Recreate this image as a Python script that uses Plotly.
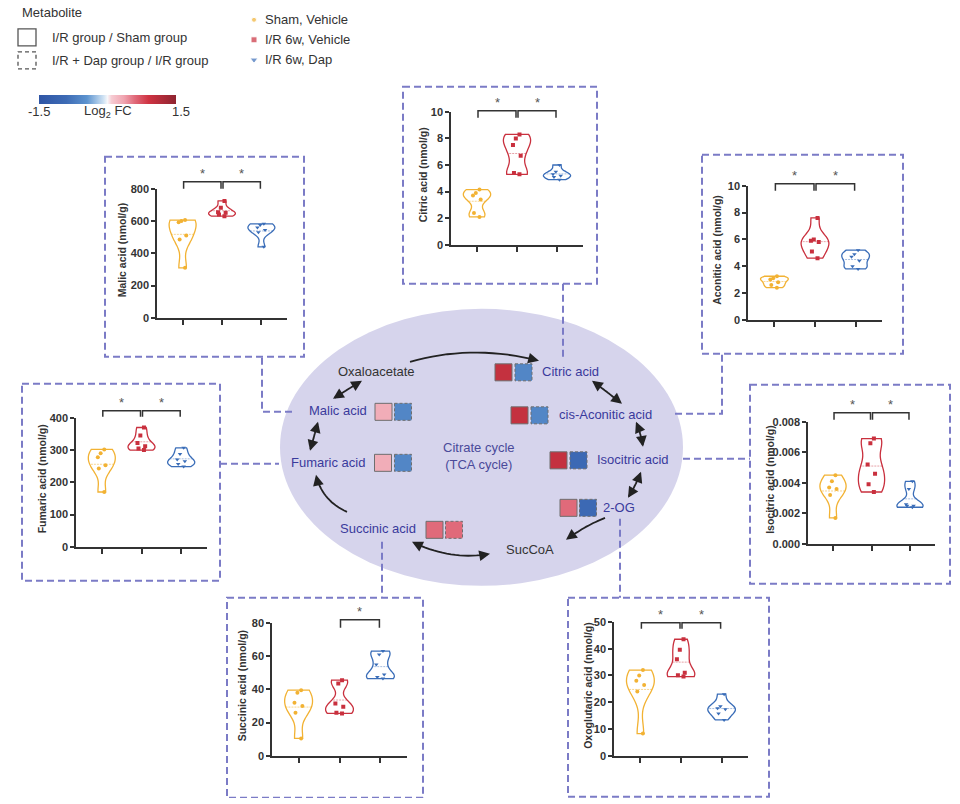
import plotly.graph_objects as go

# All layout constants below are window pixels; the page margin is removed and the measured
# vertical offset/scale of the photographed page is compensated (screen_y = YA + YB * fig_y).
XOFF = 0
YA, YB = 5.2, 0.985
FW, FH = 960, 804
FONT = "Liberation Sans, Arial, sans-serif"

# ---------------- data ----------------
groups = ["Sham, Vehicle", "I/R 6w, Vehicle", "I/R 6w, Dap"]
group_colors = ["#F2B233", "#C9303E", "#3A6DB8"]
group_mean_colors = ["rgba(242,178,51,0.55)", "rgba(201,48,62,0.45)", "rgba(58,109,184,0.45)"]
group_symbols = ["circle", "square", "triangle-down"]

malic_sham = [310, 486, 511, 593, 600, 606]
malic_ir = [630, 641, 651, 655, 682, 725]
malic_dap = [440, 530, 545, 560, 575, 583]
citric_sham = [2.1, 2.4, 3.4, 3.7, 3.9, 4.15]
citric_ir = [5.3, 5.4, 6.7, 7.5, 8.0, 8.3]
citric_dap = [4.9, 5.1, 5.2, 5.3, 5.5, 6.0]
aconitic_sham = [2.4, 2.6, 2.8, 3.0, 3.1, 3.25]
aconitic_ir = [4.6, 5.1, 5.8, 5.9, 6.0, 7.6]
aconitic_dap = [3.8, 4.0, 4.4, 4.7, 4.9, 5.2]
fumaric_sham = [170, 243, 253, 278, 290, 302]
fumaric_ir = [300, 305, 312, 322, 345, 370]
fumaric_dap = [249, 257, 265, 271, 288, 307]
isocitric_sham = [0.0017, 0.0032, 0.0036, 0.0037, 0.0041, 0.0045]
isocitric_ir = [0.0034, 0.0039, 0.0046, 0.0052, 0.0066, 0.0069]
isocitric_dap = [0.0024, 0.0025, 0.0025, 0.0026, 0.0036, 0.0041]
succinic_sham = [10.5, 26, 30, 32, 38, 39.5]
succinic_ir = [25.5, 26, 29.5, 31.5, 43.5, 45.5]
succinic_dap = [46.5, 47.5, 49, 55, 61, 63]
oxo_sham = [8.3, 24, 26.4, 28, 30, 32]
oxo_ir = [29.6, 30.1, 31, 36, 39.6, 43.5]
oxo_dap = [13.4, 15.8, 17.4, 17.8, 18.5, 23]

panel_values = [
    [malic_sham, malic_ir, malic_dap],
    [citric_sham, citric_ir, citric_dap],
    [aconitic_sham, aconitic_ir, aconitic_dap],
    [fumaric_sham, fumaric_ir, fumaric_dap],
    [isocitric_sham, isocitric_ir, isocitric_dap],
    [succinic_sham, succinic_ir, succinic_dap],
    [oxo_sham, oxo_ir, oxo_dap],
]
y_titles = ["Malic acid (nmol/g)", "Citric acid (nmol/g)", "Aconitic acid (nmol/g)",
            "Fumaric acid (nmol/g)", "Isocitric acid (nmol/g)", "Succinic acid (nmol/g)",
            "Oxoglutaric acid (nmol/g)"]
y_max = [800, 10, 10, 400, 0.008, 80, 50]
y_dtick = [200, 2, 2, 100, 0.002, 20, 10]
y_format = ["d", "d", "d", "d", ".3f", "d", "d"]
significance = [[(0, 1), (1, 2)], [(0, 1), (1, 2)], [(0, 1), (1, 2)], [(0, 1), (1, 2)],
                [(0, 1), (1, 2)], [(1, 2)], [(0, 1), (1, 2)]]

metabolites = ["Citric acid", "cis-Aconitic acid", "Isocitric acid", "2-OG",
               "Succinic acid", "Fumaric acid", "Malic acid"]
log2fc_ir_vs_sham = [1.0, 1.0, 1.0, 0.6, 0.6, 0.3, 0.3]
log2fc_dap_vs_ir = [-0.6, -0.6, -0.95, -0.95, 0.6, -0.6, -0.6]
fc_min, fc_max = -1.5, 1.5

# ---------------- layout constants (window pixels) ----------------
XR = [-0.65, 2.65]
BW_FRACTION = 0.2  # violin smoothing relative to each group's spread
# plotting area of each panel: x_left, x_right, y_top, y_bottom
panel_area = [(157, 287, 188, 317), (451, 583, 111, 244), (748, 882, 185, 319),
              (76, 207, 417, 546), (808, 935, 421, 543), (272, 407, 622, 755),
              (614, 748, 621, 755)]
panel_box = [(105, 156, 304, 356), (403, 86, 597, 283), (702, 154, 903, 353),
             (22, 383, 220, 580), (750, 384, 950, 583), (227, 597, 423, 797),
             (568, 597, 769, 796)]
title_offset = [35, 28, 31, 34, 38, 30, 26]
bracket_y = [181, 110, 183, 410, 412, 619, 622]
bracket_drop = [7, 7, 7, 6, 7, 8, 6]

label_pos = [(570, 371), (605, 414), (633, 459), (619, 507), (378, 528), (328, 462), (338, 410)]
square_a = [(503.5, 371.5), (519.5, 414.5), (558.5, 459.5), (568.5, 507), (434.5, 529),
            (383, 462), (383.5, 411)]
square_b = [(523.5, 371.5), (539.5, 414.5), (578.5, 459.5), (588, 507), (454, 529),
            (403, 462), (403, 411)]
SQ = 17

connectors = [
    [(262, 357), (262, 411), (296, 411)],
    [(563, 283), (563, 357)],
    [(675, 413), (722, 413), (722, 353)],
    [(683, 458), (750, 458)],
    [(620, 518), (620, 597)],
    [(382, 541), (382, 597)],
    [(220, 463), (279, 463)],
]
# arrows: start, control, end, head_start, head_end
arrows = [
    ((410, 361), (473, 343), (539, 360), False, True),
    ((592, 380), (607, 391), (622, 403), True, True),
    ((636, 421), (641, 433), (643, 446), True, True),
    ((641, 471), (636, 484), (628, 497), True, True),
    ((605, 517), (585, 525), (566, 539), False, True),
    ((412, 541), (451, 560), (490, 553), True, True),
    ((347, 511), (322, 500), (316, 474), False, True),
    ((310, 450), (314, 436), (318, 421), True, True),
    ((333, 398), (347, 389), (362, 380), True, True),
]

DASH_COL = "#7B7BC6"
DASH = "7px,4px"
AX_COL = "#333333"


def fx(x):
    return (x - XOFF) / FW


def fy(y):
    return 1 - ((y - YA) / YB) / FH


fig = go.Figure()
shapes = []
annotations = []

colorscale = [[0, "#2F55A5"], [0.2, "#3D6BB5"], [0.35, "#5C93CF"], [0.47, "#CFE2F3"],
              [0.5, "#F7F7FA"], [0.53, "#F6CBD2"], [0.62, "#F0A4B0"], [0.7, "#E06A7A"],
              [0.8, "#CF3342"], [1, "#8E2430"]]

layout = dict(
    width=FW, height=FH, margin=dict(l=0, r=0, t=0, b=0, pad=0),
    paper_bgcolor="white", plot_bgcolor="rgba(0,0,0,0)",
    showlegend=False, violinmode="overlay",
    font=dict(family=FONT, color="#333"),
    xaxis=dict(domain=[0, 1], range=[XOFF, XOFF + FW], visible=False, fixedrange=True),
    yaxis=dict(domain=[0, 1], range=[YA + YB * FH, YA], visible=False, fixedrange=True),
)

# ---------------- violin panels ----------------
for i, vals3 in enumerate(panel_values):
    k = i + 2
    xl, xr, yt, yb = panel_area[i]
    layout[f"xaxis{k}"] = dict(
        domain=[fx(xl), fx(xr)], anchor=f"y{k}", type="category",
        categoryorder="array", categoryarray=groups, range=XR,
        showline=True, linecolor=AX_COL, linewidth=1.5, ticks="outside",
        ticklen=5, tickwidth=1.5, tickcolor=AX_COL, showticklabels=False,
        showgrid=False, zeroline=False, fixedrange=True)
    layout[f"yaxis{k}"] = dict(
        domain=[fy(yb), fy(yt)], anchor=f"x{k}", range=[0, y_max[i]],
        dtick=y_dtick[i], tick0=0, tickformat=y_format[i],
        showline=True, linecolor=AX_COL, linewidth=1.5, ticks="outside",
        ticklen=4, tickwidth=1.5, tickcolor=AX_COL, showgrid=False, zeroline=False,
        tickfont=dict(family=FONT, size=11, color=AX_COL, weight="bold"),
        fixedrange=True)
    for g, vals in enumerate(vals3):
        fig.add_trace(go.Violin(
            x=[groups[g]] * len(vals), y=vals, xaxis=f"x{k}", yaxis=f"y{k}",
            line=dict(color=group_colors[g], width=1.3),
            fillcolor="rgba(255,255,255,0)", width=0.68, spanmode="hard",
            bandwidth=(max(vals) - min(vals)) * BW_FRACTION,
            points="all", pointpos=0, jitter=0.35,
            marker=dict(size=4, symbol=group_symbols[g], color=group_colors[g]),
            meanline=dict(visible=True, color=group_mean_colors[g], width=1),
            box_visible=False, hoverinfo="skip", showlegend=False))
    # y title
    annotations.append(dict(
        x=xl - title_offset[i], y=(yt + yb) / 2 - 3, xref="x", yref="y", text=y_titles[i],
        textangle=-90, showarrow=False,
        font=dict(family=FONT, size=10.5, color=AX_COL, weight="bold")))
    # significance brackets
    def cat_px(c, xl=xl, xr=xr):
        return xl + (c - XR[0]) / (XR[1] - XR[0]) * (xr - xl)
    by = bracket_y[i]
    for a, b in significance[i]:
        xa, xb = cat_px(a) + 1, cat_px(b) - 1
        shapes.append(dict(type="path", xref="x", yref="y",
                           path=f"M {xa},{by + bracket_drop[i]} L {xa},{by} L {xb},{by} L {xb},{by + bracket_drop[i]}",
                           line=dict(color=AX_COL, width=1.5)))
        annotations.append(dict(x=(xa + xb) / 2, y=by - 8, xref="x", yref="y", text="*",
                                showarrow=False, font=dict(family=FONT, size=13, color="#555")))
    # dashed panel box
    bx0, by0, bx1, by1 = panel_box[i]
    shapes.append(dict(type="rect", xref="x", yref="y", x0=bx0, y0=by0, x1=bx1, y1=by1,
                       line=dict(color=DASH_COL, width=2, dash=DASH), layer="below"))

# ---------------- central diagram ----------------
shapes.insert(0, dict(type="circle", xref="x", yref="y", x0=280, x1=683, y0=308, y1=585,
                      fillcolor="#D6D4EC", line=dict(width=0), layer="below"))

for pts in connectors:
    path = "M " + " L ".join(f"{x},{y}" for x, y in pts)
    shapes.append(dict(type="path", xref="x", yref="y", path=path,
                       line=dict(color=DASH_COL, width=2, dash=DASH)))


def quad(p0, c, p1, t):
    return ((1 - t) ** 2 * p0[0] + 2 * (1 - t) * t * c[0] + t ** 2 * p1[0],
            (1 - t) ** 2 * p0[1] + 2 * (1 - t) * t * c[1] + t ** 2 * p1[1])


for p0, c, p1, hs, he in arrows:
    t0 = 0.06 if hs else 0.0
    t1 = 0.94 if he else 1.0
    n = 16
    pts = [quad(p0, c, p1, t0 + (t1 - t0) * j / n) for j in range(n + 1)]
    path = "M " + " L ".join(f"{x:.1f},{y:.1f}" for x, y in pts)
    shapes.append(dict(type="path", xref="x", yref="y", path=path,
                       line=dict(color="#222", width=1.8)))
    for tip, ctrl, on in ((p1, c, he), (p0, c, hs)):
        if not on:
            continue
        dx, dy = ctrl[0] - tip[0], ctrl[1] - tip[1]
        L = (dx * dx + dy * dy) ** 0.5
        annotations.append(dict(x=tip[0], y=tip[1], xref="x", yref="y", text="",
                                showarrow=True, ax=dx / L * 9, ay=dy / L * 9,
                                arrowhead=2, arrowsize=1.2, arrowwidth=1.8,
                                arrowcolor="#222", standoff=0, startstandoff=0))

for name, (x, y) in zip(metabolites, label_pos):
    annotations.append(dict(x=x, y=y, xref="x", yref="y", text=name, showarrow=False,
                            font=dict(family=FONT, size=13, color="#3A3A9C")))
for name, (x, y) in (("Oxaloacetate", (376, 371)), ("SucCoA", (530, 549))):
    annotations.append(dict(x=x, y=y, xref="x", yref="y", text=name, showarrow=False,
                            font=dict(family=FONT, size=13, color="#333")))
annotations.append(dict(x=479, y=455, xref="x", yref="y",
                        text="Citrate cycle<br>(TCA cycle)", showarrow=False,
                        font=dict(family=FONT, size=13, color="#4A4A9A")))

# fold-change squares (colour from the colour scale)
fig.add_trace(go.Scatter(
    x=[p[0] for p in square_a], y=[p[1] for p in square_a], xaxis="x", yaxis="y",
    mode="markers", hoverinfo="skip", showlegend=False,
    marker=dict(symbol="square", size=SQ, color=log2fc_ir_vs_sham, colorscale=colorscale,
                cmin=fc_min, cmax=fc_max, line=dict(color="#6E6E6E", width=1),
                showscale=True,
                colorbar=dict(orientation="h", x=fx(39), xanchor="left", y=fy(94),
                              yanchor="top", len=137, lenmode="pixels", thickness=9,
                              thicknessmode="pixels", outlinewidth=0, showticklabels=False,
                              ticks="", xpad=0, ypad=0))))
fig.add_trace(go.Scatter(
    x=[p[0] for p in square_b], y=[p[1] for p in square_b], xaxis="x", yaxis="y",
    mode="markers", hoverinfo="skip", showlegend=False,
    marker=dict(symbol="square", size=SQ, color=log2fc_dap_vs_ir, colorscale=colorscale,
                cmin=fc_min, cmax=fc_max, line=dict(width=0), showscale=False)))
for x, y in square_b:
    shapes.append(dict(type="rect", xref="x", yref="y", x0=x - SQ / 2, x1=x + SQ / 2,
                       y0=y - SQ / 2, y1=y + SQ / 2,
                       line=dict(color="#6E6E6E", width=1, dash="3px,2px")))

# ---------------- legends ----------------
annotations.append(dict(x=20, y=12, xref="x", yref="y", text="Metabolite", xanchor="left",
                        showarrow=False, font=dict(family=FONT, size=13, color="#333")))
shapes.append(dict(type="rect", xref="x", yref="y", x0=18, x1=36, y0=28, y1=45,
                   line=dict(color="#555", width=1.3)))
shapes.append(dict(type="rect", xref="x", yref="y", x0=18, x1=36, y0=51, y1=68,
                   line=dict(color="#555", width=1.3, dash="4px,3px")))
annotations.append(dict(x=50, y=37, xref="x", yref="y", text="I/R group / Sham group",
                        xanchor="left", showarrow=False,
                        font=dict(family=FONT, size=13, color="#333")))
annotations.append(dict(x=50, y=60, xref="x", yref="y", text="I/R + Dap group / I/R group",
                        xanchor="left", showarrow=False,
                        font=dict(family=FONT, size=13, color="#333")))
for txt, x in (("-1.5", 39), ("Log<sub>2</sub> FC", 108), ("1.5", 181)):
    annotations.append(dict(x=x, y=111, xref="x", yref="y", text=txt, showarrow=False,
                            font=dict(family=FONT, size=13, color="#333")))

legend_y = [19, 39, 59]
fig.add_trace(go.Scatter(
    x=[254, 254, 254], y=legend_y, xaxis="x", yaxis="y", mode="markers",
    hoverinfo="skip", showlegend=False,
    marker=dict(symbol=group_symbols, color=group_colors, size=[5, 6, 7])))
for g, y in zip(groups, legend_y):
    annotations.append(dict(x=263, y=y, xref="x", yref="y", text=g, xanchor="left",
                            showarrow=False, font=dict(family=FONT, size=13, color="#333")))

layout["shapes"] = shapes
layout["annotations"] = annotations
fig.update_layout(**layout)
fig.write_html(
    "out.html",
    config={"displayModeBar": False},
    post_script="document.body.style.margin='0px';document.body.style.overflow='hidden';"
                "document.documentElement.style.overflow='hidden';")
